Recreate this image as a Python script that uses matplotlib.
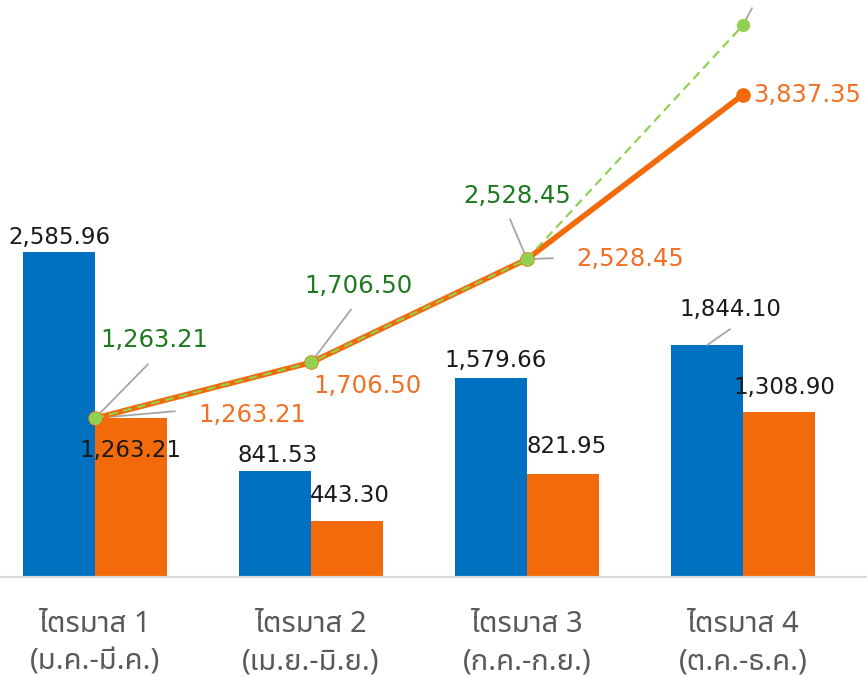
import matplotlib
matplotlib.use("Agg")
import matplotlib.pyplot as plt
from matplotlib import font_manager, ft2font
import numpy as np

# ---------------- data ----------------
categories = ["ไตรมาส 1\n(ม.ค.-มี.ค.)", "ไตรมาส 2\n(เม.ย.-มิ.ย.)",
              "ไตรมาส 3\n(ก.ค.-ก.ย.)", "ไตรมาส 4\n(ต.ค.-ธ.ค.)"]
blue_values = [2585.96, 841.53, 1579.66, 1844.10]
orange_values = [1263.21, 443.30, 821.95, 1308.90]
orange_cumulative = [1263.21, 1706.50, 2528.45, 3837.35]
green_cumulative = [1263.21, 1706.50, 2528.45, 4390.00]

# ---------------- font with Thai glyphs ----------------
def find_thai_font():
    preferred = ["Tahoma", "Noto Sans Thai", "Noto Sans Thai Looped", "Loma", "Garuda",
                 "Waree", "Norasi", "Kinnari", "Sawasdee", "TlwgTypo", "Umpush",
                 "Laksaman", "Noto Serif Thai"]
    found = {}
    for fe in font_manager.fontManager.ttflist:
        try:
            f = ft2font.FT2Font(fe.fname)
            if f.get_char_index(ord("ไ")) != 0 and f.get_char_index(ord("ม")) != 0:
                found.setdefault(fe.name, fe.fname)
        except Exception:
            pass
    for p in preferred:
        if p in found:
            return p
    if found:
        return sorted(found)[0]
    return None

thai_font = find_thai_font()
tick_family = [thai_font, "DejaVu Sans"] if thai_font else ["DejaVu Sans"]

# ---------------- style ----------------
BLUE = "#0070C0"
ORANGE = "#F26A0A"
GREEN_LINE = "#92D050"
GREEN_TEXT = "#1E7A1E"
ORANGE_TEXT = "#F07025"
LABEL_DARK = "#1A1A1A"
LEADER = "#A6A6A6"

fig = plt.figure(figsize=(8.67, 6.78), dpi=100)
ax = fig.add_axes([0, 101 / 678, 1, 577 / 678])

x = np.arange(len(categories))
w = 1 / 3
ax.bar(x - w / 2, blue_values, width=w, color=BLUE, zorder=2)
ax.bar(x + w / 2, orange_values, width=w, color=ORANGE, zorder=2)

ax.plot(x, orange_cumulative, color=ORANGE, lw=4.0, marker="o", ms=9.5,
        solid_capstyle="round", zorder=4)
ax.plot(x, green_cumulative, color=GREEN_LINE, lw=1.6, ls=(0, (4, 2.5)),
        marker="o", ms=8.5, zorder=5)

ax.set_xlim(-95 / 216, (867 - 95) / 216)
ax.set_ylim(0, 577 / 0.1257)

for s in ["top", "left", "right"]:
    ax.spines[s].set_visible(False)
ax.spines["bottom"].set_color("#D9D9D9")
ax.spines["bottom"].set_linewidth(1.6)
ax.set_yticks([])
ax.set_xticks(x)
ax.set_xticklabels(categories, family=tick_family, fontsize=21, color="#595959",
                   linespacing=1.38)
ax.tick_params(axis="x", length=0, pad=24)

def label(text, xy, off, color, size=16.5, ha="center"):
    ax.annotate(text, xy=xy, xytext=off, textcoords="offset pixels",
                ha=ha, va="center", color=color, fontsize=size,
                family="DejaVu Sans", zorder=7, annotation_clip=False)

def leader(xy, off):
    ax.annotate("", xy=xy, xytext=off, textcoords="offset pixels",
                arrowprops=dict(arrowstyle="-", color=LEADER, lw=1.3,
                                shrinkA=0, shrinkB=0), zorder=3,
                annotation_clip=False)

fmt = lambda v: f"{v:,.2f}"

# blue bar labels
blue_off = [(0, 14), (3, 16), (5, 18), (23, 36)]
for i, v in enumerate(blue_values):
    label(fmt(v), (x[i] - w / 2, v), blue_off[i], LABEL_DARK)
leader((x[3] - w / 2, blue_values[3]), (23, 16))

# orange bar labels
orange_off = [(-1, -32), (3, 26), (4, 27), (5, 25)]
for i, v in enumerate(orange_values):
    label(fmt(v), (x[i] + w / 2, v), orange_off[i], LABEL_DARK)

# green line labels (the Q4 label lies outside the visible frame in the reference,
# only its leader line shows)
green_off = [(59, 78), (47, 76), (-10, 63)]
for i, off in enumerate(green_off):
    label(fmt(green_cumulative[i]), (x[i], green_cumulative[i]), off,
          GREEN_TEXT, size=17.5)
for i, off in [(0, (53, 54)), (1, (40, 53)), (2, (-17, 40)), (3, (9, 17))]:
    leader((x[i], green_cumulative[i]), off)

# orange line labels
oline_off = [(157, 3), (56, -24), (103, 0), (64, 0)]
for i, v in enumerate(orange_cumulative):
    label(fmt(v), (x[i], v), oline_off[i], ORANGE_TEXT, size=17.5)
for i, off in [(0, (80, 7)), (2, (26, 1))]:
    leader((x[i], orange_cumulative[i]), off)

fig.savefig("out.png", dpi=100)
